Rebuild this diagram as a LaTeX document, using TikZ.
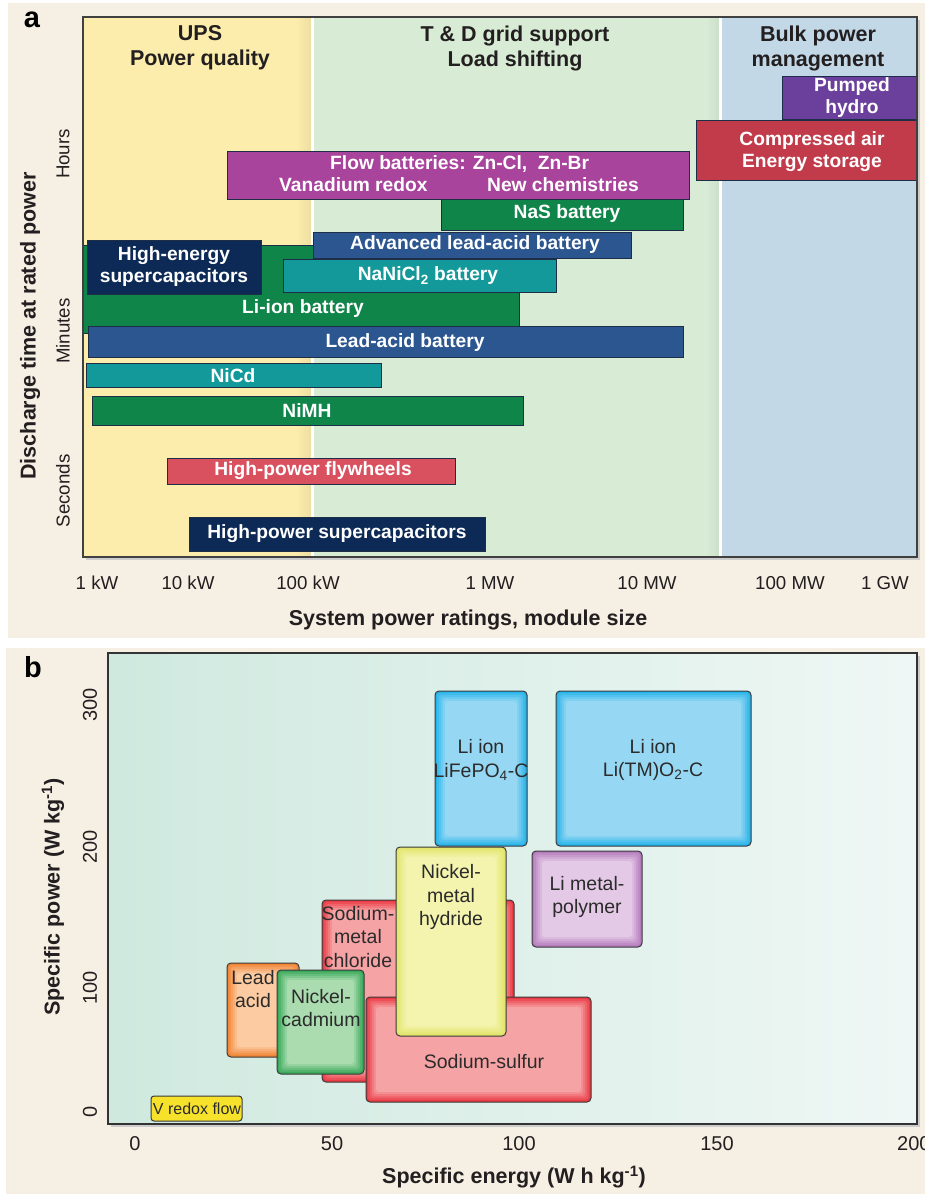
\documentclass[tikz,border=0pt]{standalone}
\usepackage{fontspec}
\setmainfont{Liberation Sans}
\usetikzlibrary{positioning}

\definecolor{paper}{HTML}{F6EFE4}
\definecolor{ink}{HTML}{231F20}
\definecolor{upsyel}{HTML}{FCEDAC}
\definecolor{tdgreen}{HTML}{D7EBD5}
\definecolor{bulkblue}{HTML}{C3D8E7}
\definecolor{barline}{HTML}{1E2E48}
\definecolor{flowmag}{HTML}{A8449C}
\definecolor{batgreen}{HTML}{0F854A}
\definecolor{leadblue}{HTML}{2B5690}
\definecolor{tealbat}{HTML}{14999A}
\definecolor{capnavy}{HTML}{0C2A55}
\definecolor{flyred}{HTML}{D9505F}
\definecolor{hydropur}{HTML}{6B3F9C}
\definecolor{caesred}{HTML}{C13B4B}
\definecolor{mintL}{HTML}{CFE9DF}
\definecolor{mintR}{HTML}{EFF7F5}
\definecolor{boxline}{HTML}{3A3A3A}
\definecolor{blueE}{HTML}{27B4EA}
\definecolor{blueL}{HTML}{96D8F4}
\definecolor{yelE}{HTML}{E2E56A}
\definecolor{yelL}{HTML}{F4F4AE}
\definecolor{redE}{HTML}{EA3A43}
\definecolor{redL}{HTML}{F6A3A5}
\definecolor{oraE}{HTML}{F08536}
\definecolor{oraL}{HTML}{FCCBA2}
\definecolor{grnE}{HTML}{3AA85A}
\definecolor{grnL}{HTML}{AADCB0}
\definecolor{purE}{HTML}{B47BBD}
\definecolor{purL}{HTML}{E4C9E6}
\definecolor{vyel}{HTML}{F6E22B}
\definecolor{boxtext}{HTML}{2B2B2B}

\begin{document}
\begin{tikzpicture}[x=1pt,y=-1pt,
  bar/.style={draw=barline,line width=0.8pt},
  barlbl/.style={text=white,font=\fontsize{19.2}{22}\selectfont\bfseries,align=center,inner sep=0pt},
  head/.style={text=ink,font=\fontsize{21.5}{25}\selectfont\bfseries,align=center,inner sep=0pt},
  tick/.style={text=ink,font=\fontsize{18.7}{22}\selectfont,inner sep=0pt},
  btick/.style={text=ink,font=\fontsize{20}{24}\selectfont,inner sep=0pt},
  axis/.style={text=ink,font=\fontsize{21.5}{25}\selectfont\bfseries,inner sep=0pt},
  panel/.style={text=black,font=\fontsize{29}{32}\selectfont\bfseries,inner sep=0pt},
  boxlbl/.style={text=boxtext,font=\fontsize{19.5}{23.5}\selectfont,align=center,inner sep=0pt},
  glow/.style 2 args={draw=boxline,line width=1pt,rounded corners=4pt,fill=#1,
    path picture={
      \foreach \k in {1,...,5}{
        \pgfmathtruncatemacro\pc{\k*20}
        \fill[#2!\pc!#1,rounded corners=3pt]
          ([shift={(\k*2pt,-\k*2pt)}]path picture bounding box.north west) rectangle
          ([shift={(-\k*2pt,\k*2pt)}]path picture bounding box.south east);
      }}}]

\useasboundingbox (0,0) rectangle (925,1194);
\fill[white] (0,0) rectangle (925,1194);

% ---- panel a ----
\fill[paper] (8,3) rectangle (925,638);
\fill[black!20] (86,20) rectangle (920,560);
\fill[upsyel] (83,17) rectangle (311,557);
\shade[left color=upsyel,right color=upsyel!94!black] (296,17) rectangle (311,557);
\fill[tdgreen] (313,17) rectangle (719,557);
\shade[left color=tdgreen,right color=tdgreen!95!black] (706,17) rectangle (719,557);
\fill[bulkblue] (721,17) rectangle (917,557);
\draw[white,line width=3pt] (312,17) -- (312,557);
\draw[white,line width=3pt] (720,17) -- (720,557);

\node[head] (ups) at (200,48) {UPS\\Power quality};
\node[head] (td) at (515,48) {T \& D grid support\\Load shifting};
\node[head] (bulk) at (818,48) {Bulk power\\management};

% bars
\draw[bar,fill=flowmag] (227,151) rectangle (689,199);
\node[barlbl,anchor=west] (flow1) at (330,164) {Flow batteries: Zn-Cl,\ \ Zn-Br};
\node[barlbl,anchor=west] (flow2) at (279,185) {Vanadium redox};
\node[barlbl,anchor=west] (flow3) at (487,185) {New chemistries};

\draw[bar,fill=batgreen] (441,199) rectangle (683,230);
\node[barlbl] (nas) at (567,214) {NaS battery};

\draw[bar,fill=batgreen] (83,245) rectangle (519,333);
\node[barlbl] (liion) at (303,309) {Li-ion battery};

\draw[bar,fill=leadblue] (313,232) rectangle (631,258);
\node[barlbl] (advlead) at (475,245) {Advanced lead-acid battery};

\draw[bar,fill=tealbat] (283,259) rectangle (556,292);
\node[barlbl] (nanicl) at (428,276) {NaNiCl\textsubscript{2} battery};

\draw[bar,fill=capnavy] (87,240) rectangle (261,294);
\node[barlbl] (hecap) at (174,267) {High-energy\\supercapacitors};

\draw[bar,fill=leadblue] (88,326) rectangle (683,357);
\node[barlbl] (lead) at (405,343) {Lead-acid battery};

\draw[bar,fill=tealbat] (86,363) rectangle (381,387);
\node[barlbl] (nicd) at (233,376) {NiCd};

\draw[bar,fill=batgreen] (92,396) rectangle (523,425);
\node[barlbl] (nimh) at (307,411) {NiMH};

\draw[bar,fill=flyred] (167,458) rectangle (455,484);
\node[barlbl] (fly) at (313,471) {High-power flywheels};

\draw[bar,fill=capnavy] (189,517) rectangle (485,551);
\node[barlbl] (hpcap) at (337,534) {High-power supercapacitors};

\draw[bar,fill=hydropur] (782,76) rectangle (917,119);
\node[barlbl] (hydro) at (852,98) {Pumped\\hydro};

\draw[bar,fill=caesred] (696,120) rectangle (917,180);
\node[barlbl] (caes) at (812,152) {Compressed air\\Energy storage};

\draw[black!75,line width=1.2pt] (83,17) rectangle (917,557);

% axes a
\node[panel] (pa) at (32,20) {a};
\node[axis,rotate=90] (ylab) at (30,326) {Discharge time at rated power};
\node[tick,rotate=90] (hours) at (63,154) {Hours};
\node[tick,rotate=90] (minutes) at (63,331) {Minutes};
\node[tick,rotate=90] (seconds) at (63,491) {Seconds};
\node[tick] (t1) at (97,583) {1 kW};
\node[tick] (t2) at (188,583) {10 kW};
\node[tick] (t3) at (308,583) {100 kW};
\node[tick] (t4) at (490,583) {1 MW};
\node[tick] (t5) at (647,583) {10 MW};
\node[tick] (t6) at (790,583) {100 MW};
\node[tick] (t7) at (885,583) {1 GW};
\node[axis] (xlab) at (468,620) {System power ratings, module size};

% ---- panel b ----
\fill[paper] (6,648) rectangle (925,1194);
\fill[black!20] (111,656) rectangle (920,1127);
\shade[left color=mintL,right color=mintR] (108,653) rectangle (917,1124);
\draw[black!80,line width=2pt] (108,653) rectangle (917,1124);

\draw[glow={blueE}{blueL}] (435,691) rectangle (527,846);
\node[boxlbl] (lfp) at (481,760) {Li ion\\LiFePO\textsubscript{4}-C};
\draw[glow={blueE}{blueL}] (556,691) rectangle (751,846);
\node[boxlbl] (ltm) at (653,760) {Li ion\\Li(TM)O\textsubscript{2}-C};
\draw[glow={purE}{purL}] (532,851) rectangle (642,947);
\node[boxlbl] (lmp) at (587,897) {Li metal-\\polymer};
\draw[glow={redE}{redL}] (322,900) rectangle (514,1082);
\node[boxlbl] (smc) at (358,937) {Sodium-\\metal\\chloride};
\draw[glow={oraE}{oraL}] (227,963) rectangle (299,1057);
\node[boxlbl] (pba) at (253,989) {Lead\\acid};
\draw[glow={grnE}{grnL}] (277,970) rectangle (364,1074);
\node[boxlbl] (nicad) at (321,1008) {Nickel-\\cadmium};
\draw[glow={redE}{redL}] (366,997) rectangle (591,1102);
\node[boxlbl] (nas2) at (484,1062) {Sodium-sulfur};
\draw[glow={yelE}{yelL}] (396,847) rectangle (506,1036);
\node[boxlbl] (nimh2) at (451,897) {Nickel-\\metal\\hydride};
\draw[boxline,line width=1pt,rounded corners=3pt,fill=vyel] (151,1096) rectangle (242,1121);
\node[boxlbl,font=\fontsize{16}{19}\selectfont] (vrf) at (197,1109) {V redox flow};

% axes b
\node[panel] (pb) at (33,667) {b};
\node[axis,rotate=90] (ylabb) at (53,897) {Specific power (W kg\textsuperscript{-1})};
\node[btick,rotate=90] (p300) at (90,705) {300};
\node[btick,rotate=90] (p200) at (90,847) {200};
\node[btick,rotate=90] (p100) at (90,988) {100};
\node[btick,rotate=90] (p0) at (90,1112) {0};
\node[btick] (e0) at (135,1144) {0};
\node[btick] (e50) at (332,1144) {50};
\node[btick] (e100) at (519,1144) {100};
\node[btick] (e150) at (717,1144) {150};
\node[btick,anchor=west] (e200) at (897,1144) {200};
\node[axis] (xlabb) at (514,1177) {Specific energy (W h kg\textsuperscript{-1})};

\end{tikzpicture}
\end{document}
